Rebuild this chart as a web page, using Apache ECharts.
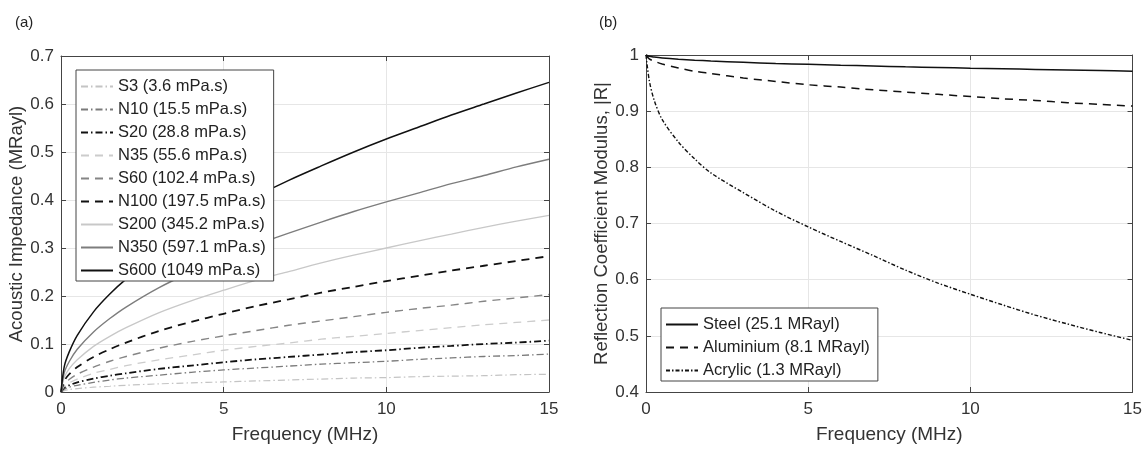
<!DOCTYPE html>
<html>
<head>
<meta charset="utf-8">
<script src="https://cdn.jsdelivr.net/npm/echarts@6/dist/echarts.min.js"></script>
<style>
  html, body { margin: 0; padding: 0; background: #fff; }
  #chart { width: 1145px; height: 449px; }
</style>
</head>
<body>
<div id="chart"></div>
<script>
// frequency samples (MHz)
const freq = [0, 0.1, 0.25, 0.5, 1, 1.5, 2, 3, 4, 5, 6, 7, 8, 9, 10, 11, 12, 13, 14, 15];

// (a) acoustic impedance, MRayl
const fluidNames = ['S3 (3.6 mPa.s)', 'N10 (15.5 mPa.s)', 'S20 (28.8 mPa.s)', 'N35 (55.6 mPa.s)',
  'S60 (102.4 mPa.s)', 'N100 (197.5 mPa.s)', 'S200 (345.2 mPa.s)', 'N350 (597.1 mPa.s)', 'S600 (1049 mPa.s)'];
const s3   = [0, .003, .005, .007, .010, .012, .014, .017, .019, .021, .023, .025, .027, .029, .030, .032, .033, .034, .036, .037];
const n10  = [0, .006, .010, .014, .020, .025, .029, .035, .041, .046, .050, .054, .058, .061, .064, .068, .071, .074, .076, .079];
const s20  = [0, .009, .014, .020, .028, .034, .039, .048, .055, .062, .068, .073, .078, .083, .087, .092, .096, .100, .103, .107];
const n35  = [0, .012, .019, .027, .039, .047, .055, .067, .077, .087, .095, .102, .110, .116, .122, .128, .134, .140, .145, .150];
const s60  = [0, .017, .026, .037, .052, .064, .074, .091, .105, .117, .128, .139, .148, .157, .166, .174, .181, .189, .196, .203];
const n100 = [0, .023, .037, .052, .073, .089, .103, .127, .146, .163, .179, .193, .207, .219, .231, .242, .253, .263, .273, .283];
const s200 = [0, .030, .048, .067, .095, .116, .134, .165, .190, .212, .233, .251, .269, .285, .300, .315, .329, .343, .356, .368];
const n350 = [0, .040, .063, .089, .125, .153, .177, .217, .250, .280, .307, .331, .354, .376, .396, .415, .434, .451, .469, .485];
const s600 = [0, .053, .083, .118, .167, .204, .235, .288, .333, .372, .408, .441, .471, .500, .527, .552, .577, .600, .623, .645];

// (b) reflection coefficient modulus
const solidNames = ['Steel (25.1 MRayl)', 'Aluminium (8.1 MRayl)', 'Acrylic (1.3 MRayl)'];
const steel     = [1, .9976, .9963, .9947, .9925, .9908, .9894, .987, .985, .9834, .9818, .9804, .979, .9778, .9766, .9755, .9744, .9733, .9722, .9712];
const aluminium = [1, .993, .989, .984, .977, .971, .967, .959, .953, .947, .943, .938, .934, .930, .926, .922, .919, .915, .912, .909];
const acrylic   = [1, .955, .920, .885, .845, .815, .790, .755, .722, .694, .668, .643, .617, .594, .574, .555, .537, .521, .506, .492];

const pairs = (ys) => freq.map((f, i) => [f, ys[i]]);

const dashDot = [7, 3, 1.5, 3];
const fluidStyles = [
  { color: '#c4c4c4', width: 1.2, type: dashDot },
  { color: '#7a7a7a', width: 1.3, type: dashDot },
  { color: '#111111', width: 1.8, type: dashDot },
  { color: '#cccccc', width: 1.3, type: [8, 6] },
  { color: '#858585', width: 1.4, type: [8, 6] },
  { color: '#111111', width: 1.8, type: [8, 6] },
  { color: '#c8c8c8', width: 1.3, type: 'solid' },
  { color: '#7d7d7d', width: 1.4, type: 'solid' },
  { color: '#111111', width: 1.5, type: 'solid' }
];
const solidStyles = [
  { color: '#111111', width: 1.5, type: 'solid' },
  { color: '#111111', width: 1.5, type: [8, 6] },
  { color: '#111111', width: 1.4, type: [4, 2, 1.5, 2] }
];

const fluidData = [s3, n10, s20, n35, s60, n100, s200, n350, s600];
const solidData = [steel, aluminium, acrylic];

const font = 'Liberation Sans, Arial, sans-serif';
const axisColor = '#444';
const gridColor = '#e6e6e6';

function mainX(grid) {
  return {
    gridIndex: grid, type: 'value', min: 0, max: 15, interval: 5,
    name: 'Frequency (MHz)', nameLocation: 'middle', nameGap: 33,
    nameTextStyle: { fontSize: 19, color: '#333', fontFamily: font },
    axisLine: { show: true, lineStyle: { color: axisColor } },
    axisTick: { inside: true, length: 5, lineStyle: { color: axisColor } },
    axisLabel: { fontSize: 17, color: '#333', fontFamily: font, margin: 9 },
    splitLine: { show: true, lineStyle: { color: gridColor } }
  };
}
function boxX(grid) {
  return {
    gridIndex: grid, type: 'value', min: 0, max: 15, interval: 5, position: 'top',
    axisLine: { show: true, onZero: false, lineStyle: { color: axisColor } },
    axisTick: { inside: true, length: 5, lineStyle: { color: axisColor } },
    axisLabel: { show: false }, splitLine: { show: false }
  };
}
function mainY(grid, min, max, name) {
  return {
    gridIndex: grid, type: 'value', min: min, max: max, interval: 0.1,
    name: name, nameLocation: 'middle', nameGap: 34, nameRotate: 90,
    nameTextStyle: { fontSize: 18.5, color: '#333', fontFamily: font },
    axisLine: { show: true, lineStyle: { color: axisColor } },
    axisTick: { inside: true, length: 5, lineStyle: { color: axisColor } },
    axisLabel: { fontSize: 17, color: '#333', fontFamily: font, margin: 7 },
    splitLine: { show: true, lineStyle: { color: gridColor } }
  };
}
function boxY(grid, min, max) {
  return {
    gridIndex: grid, type: 'value', min: min, max: max, interval: 0.1, position: 'right',
    axisLine: { show: true, onZero: false, lineStyle: { color: axisColor } },
    axisTick: { inside: true, length: 5, lineStyle: { color: axisColor } },
    axisLabel: { show: false }, splitLine: { show: false }
  };
}

const series = [];
fluidNames.forEach((n, i) => {
  series.push({
    name: n, type: 'line', xAxisIndex: 0, yAxisIndex: 0, smooth: 0.3,
    symbol: 'none', lineStyle: fluidStyles[i], itemStyle: { color: fluidStyles[i].color },
    data: pairs(fluidData[i]), z: 2 + i
  });
});
solidNames.forEach((n, i) => {
  series.push({
    name: n, type: 'line', xAxisIndex: 1, yAxisIndex: 1, smooth: 0.3,
    symbol: 'none', lineStyle: solidStyles[i], itemStyle: { color: solidStyles[i].color },
    data: pairs(solidData[i])
  });
});

const legendBase = {
  orient: 'vertical', backgroundColor: '#fff', borderColor: '#444', borderWidth: 1,
  itemWidth: 32, itemHeight: 14, itemGap: 4, z: 20,
  itemStyle: { opacity: 0 },
  textStyle: { fontSize: 16.5, lineHeight: 19, color: '#222', fontFamily: font }
};

const chart = echarts.init(document.getElementById('chart'));
chart.setOption({
  animation: false,
  backgroundColor: '#fff',
  title: [
    { text: '(a)', left: 10, top: 10, textStyle: { fontSize: 15, fontWeight: 'normal', color: '#222', fontFamily: font } },
    { text: '(b)', left: 594, top: 10, textStyle: { fontSize: 15, fontWeight: 'normal', color: '#222', fontFamily: font } }
  ],
  grid: [
    { left: 61, top: 56, width: 488, height: 340 },
    { left: 646, top: 55, width: 490, height: 341 }
  ],
  xAxis: [mainX(0), mainX(1), boxX(0), boxX(1)],
  yAxis: [
    mainY(0, 0, 0.7, 'Acoustic Impedance (MRayl)'),
    mainY(1, 0.4, 1, 'Reflection Coefficient Modulus, |R|'),
    boxY(0, 0, 0.7), boxY(1, 0.4, 1)
  ],
  legend: [
    Object.assign({}, legendBase, { left: 76, top: 70, padding: [7, 8, 1, 4], data: fluidNames }),
    Object.assign({}, legendBase, { left: 661, top: 308, padding: [7, 8, 1, 4], data: solidNames })
  ],
  series: series
});
</script>
</body>
</html>
